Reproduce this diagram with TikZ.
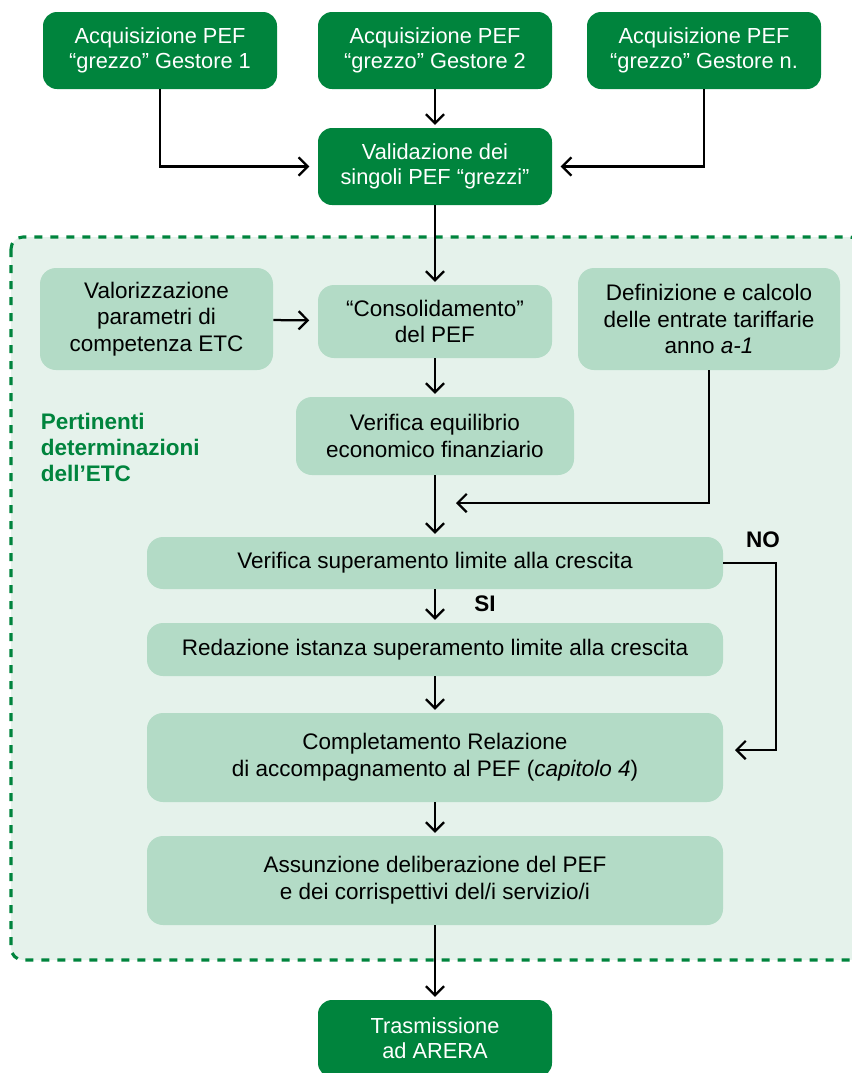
\documentclass[tikz,border=0pt]{standalone}
\usepackage{fontspec}
\setmainfont{Liberation Sans}
\usetikzlibrary{arrows.meta}

\definecolor{etcdark}{HTML}{00843D}
\definecolor{etclight}{HTML}{B3DBC6}
\definecolor{etcback}{HTML}{E5F2EB}

\begin{document}
\begin{tikzpicture}[x=0.025cm, y=-0.025cm, >={Straight Barb[length=6.5pt,width=13pt]}]

        \def\px{0.025}              % one pixel of the layout in cm
        \def\boxw{234}              % width of the dark boxes
        \def\wide{576}              % width of the lower boxes
        \tikzstyle{darkbox}=[rectangle, rounded corners=0.35cm, fill=etcdark, text=white, align=center,
                minimum width=\boxw*\px cm, minimum height=77*\px cm, font=\fontsize{15.5}{18}\selectfont]
        \tikzstyle{lightbox}=[rectangle, rounded corners=0.4cm, fill=etclight, text=black, align=center,
                minimum height=77*\px cm, font=\fontsize{16}{19}\selectfont]
        \tikzstyle{flow}=[->, line width=1.6pt, shorten >=2pt]
        \tikzstyle{side}=[->, line width=1.6pt, shorten >=6pt]
        \tikzstyle{annot}=[font=\bfseries\fontsize{16}{18.5}\selectfont]

        \useasboundingbox (0,0) rectangle (852,1073);

        % Draw the ETC area
        \draw[fill=etcback, draw=etcdark, line width=2.2pt, dash pattern=on 0.2cm off 0.2cm, rounded corners=0.3cm]
                (11,237) rectangle (862,960);
        \node[annot, text=etcdark, anchor=west, align=left] (etc) at (36,447)
                {Pertinenti\\determinazioni\\dell’ETC};

        % Draw the managers' boxes
        \node[darkbox] (g1) at (160,50.5) {Acquisizione PEF\\“grezzo” Gestore 1};
        \node[darkbox] (g2) at (435,50.5) {Acquisizione PEF\\“grezzo” Gestore 2};
        \node[darkbox] (gn) at (704,50.5) {Acquisizione PEF\\“grezzo” Gestore n.};
        \node[darkbox] (valid) at (435,166.5) {Validazione dei\\singoli PEF “grezzi”};

        % Draw the ETC boxes
        \node[lightbox, minimum width=233*\px cm, minimum height=102*\px cm] (valor) at (156.5,319)
                {Valorizzazione\\parametri di\\competenza ETC};
        \node[lightbox, minimum width=\boxw*\px cm, minimum height=73*\px cm] (cons) at (435,321.5)
                {“Consolidamento”\\del PEF};
        \node[lightbox, minimum width=262*\px cm, minimum height=102*\px cm] (defin) at (709,319)
                {Definizione e calcolo\\delle entrate tariffarie\\anno \textit{a-1}};
        \node[lightbox, minimum width=278*\px cm, minimum height=78*\px cm] (equil) at (435,436)
                {Verifica equilibrio\\economico finanziario};
        \node[lightbox, minimum width=\wide*\px cm, minimum height=52*\px cm] (superam) at (435,563)
                {Verifica superamento limite alla crescita};
        \node[lightbox, minimum width=\wide*\px cm, minimum height=53*\px cm] (redaz) at (435,649.5)
                {Redazione istanza superamento limite alla crescita};
        \node[lightbox, minimum width=\wide*\px cm, minimum height=89*\px cm] (complet) at (435,757.5)
                {Completamento Relazione\\di accompagnamento al PEF (\textit{capitolo 4})};
        \node[lightbox, minimum width=\wide*\px cm, minimum height=89*\px cm] (assunz) at (435,880.5)
                {Assunzione deliberazione del PEF\\e dei corrispettivi del/i servizio/i};

        % Draw the output box
        \node[darkbox] (trasm) at (435,1038.5) {Trasmissione\\ad ARERA};

        % Labels of the check
        \node[annot] (si) at (485,604) {SI};
        \node[annot] (no) at (763,540) {NO};

        % Free ends of the bent connectors
        \coordinate (joinpt) at (456,503);
        \coordinate (noturn) at (776,750);
        \coordinate (noend) at (735,750);

        % Connect the boxes
        \draw[side] (g1) |- (valid);
        \draw[side] (gn) |- (valid);
        \foreach \source/\target in {g2/valid, valid/cons, cons/equil, equil/superam, superam/redaz,
                redaz/complet, complet/assunz, assunz/trasm}
                \draw[flow] (\source) -- (\target);
        \draw[side] (valor) -- (cons);
        \draw[flow, shorten >=0pt] (defin.south) |- (joinpt);
        \draw[flow, shorten >=0pt] (superam.east) -| (noturn) -- (noend);

\end{tikzpicture}
\end{document}
